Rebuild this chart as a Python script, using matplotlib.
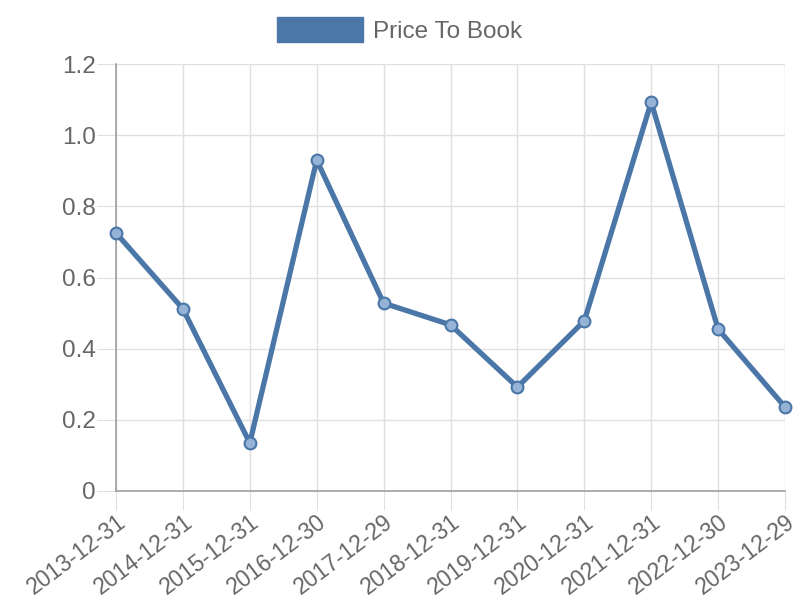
import matplotlib
matplotlib.use("Agg")
import matplotlib.pyplot as plt

dates = ["2013-12-31", "2014-12-31", "2015-12-31", "2016-12-30", "2017-12-29",
         "2018-12-31", "2019-12-31", "2020-12-31", "2021-12-31", "2022-12-30", "2023-12-29"]
price_to_book = [0.725, 0.512, 0.135, 0.930, 0.528, 0.467, 0.292, 0.478, 1.093, 0.455, 0.236]
yticks = [0, 0.2, 0.4, 0.6, 0.8, 1.0, 1.2]
ytick_labels = ["0", "0.2", "0.4", "0.6", "0.8", "1.0", "1.2"]

plt.rcParams['font.family'] = ['Liberation Sans', 'DejaVu Sans']
color = "#4a76a8"
text_color = "#666666"

fig = plt.figure(figsize=(8, 6), dpi=100)
ax = fig.add_axes([0.145, 0.1817, 0.83625, 0.7116])
x = list(range(len(dates)))
ax.plot(x, price_to_book, color=color, linewidth=3.8, marker="o", markersize=8.5,
        markerfacecolor=(0.58, 0.70, 0.84, 1.0), markeredgecolor=color, markeredgewidth=1.5,
        label="Price To Book", zorder=3, clip_on=False)

ax.set_xlim(0, len(dates) - 1)
ax.set_ylim(0, 1.2)
ax.set_yticks(yticks)
ax.set_yticklabels(ytick_labels)
ax.set_xticks(x)
ax.set_xticklabels(dates, rotation=37, ha="right", rotation_mode="anchor")
ax.grid(True, color="#e0e0e0", linewidth=1)
ax.set_axisbelow(True)
for side in ["top", "right"]:
    ax.spines[side].set_visible(False)
for side in ["left", "bottom"]:
    ax.spines[side].set_color("#a0a0a0")
    ax.spines[side].set_linewidth(1.2)
ax.tick_params(axis="both", length=14, color="#e0e0e0", labelcolor=text_color, labelsize=17.5, pad=0.5)
ax.tick_params(axis="x", pad=0, labelsize=16.5)

leg = fig.legend(handles=[plt.Rectangle((0, 0), 1, 1, facecolor=color, edgecolor=color)],
                 labels=["Price To Book"], loc="upper center", bbox_to_anchor=(0.5, 1.0),
                 frameon=False, fontsize=17.5, handlelength=3.5, handleheight=1.2, handletextpad=0.45,
                 borderaxespad=0.3)
for t in leg.get_texts():
    t.set_color(text_color)

fig.savefig("out.png", dpi=100)
